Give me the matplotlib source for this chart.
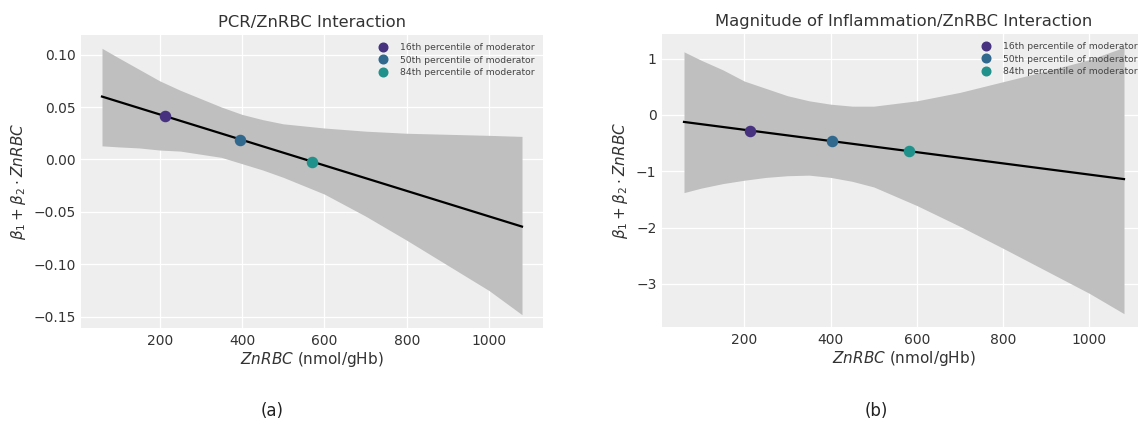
import matplotlib
matplotlib.use('Agg')
import matplotlib.pyplot as plt
import numpy as np

# HDI band, x in nmol/gHb
band_x = [60, 100, 150, 200, 250, 300, 350, 400, 450, 500, 600, 700, 800, 900, 1000, 1080]

pcr_upper = [0.106, 0.097, 0.086, 0.075, 0.066, 0.058, 0.050, 0.043, 0.038, 0.034,
             0.030, 0.027, 0.025, 0.024, 0.023, 0.022]
pcr_lower = [0.013, 0.012, 0.011, 0.009, 0.008, 0.005, 0.002, -0.004, -0.010, -0.017,
             -0.033, -0.054, -0.077, -0.101, -0.125, -0.148]
pcr_line_x = [60, 1080]
pcr_line_y = [0.060, -0.064]
pcr_pts_x = [212, 395, 571]
pcr_pts_y = [0.041, 0.019, -0.002]

inf_upper = [1.12, 0.97, 0.80, 0.60, 0.47, 0.34, 0.25, 0.19, 0.155, 0.155,
             0.25, 0.40, 0.59, 0.78, 0.98, 1.20]
inf_lower = [-1.38, -1.30, -1.22, -1.16, -1.11, -1.08, -1.07, -1.11, -1.18, -1.28,
             -1.61, -1.98, -2.37, -2.77, -3.17, -3.53]
inf_line_x = [60, 1080]
inf_line_y = [-0.125, -1.14]
inf_pts_x = [214, 402, 581]
inf_pts_y = [-0.29, -0.46, -0.64]

pct_labels = ['16th percentile of moderator', '50th percentile of moderator',
              '84th percentile of moderator']
pct_colors = ['#46327e', '#31688e', '#21918c']

titles = ['PCR/ZnRBC Interaction', 'Magnitude of Inflammation/ZnRBC Interaction']
sub_labels = ['(a)', '(b)']

W, H = 1138, 426
fig = plt.figure(figsize=(W / 100, H / 100), dpi=100)
fig.patch.set_facecolor('white')

ax_a = fig.add_axes([81 / W, 1 - 328 / H, 462 / W, 293 / H])
ax_b = fig.add_axes([662 / W, 1 - 327 / H, 484 / W, 293 / H])

panels = [
    (ax_a, pcr_upper, pcr_lower, pcr_line_x, pcr_line_y, pcr_pts_x, pcr_pts_y),
    (ax_b, inf_upper, inf_lower, inf_line_x, inf_line_y, inf_pts_x, inf_pts_y),
]

for i, (ax, up, lo, lx, ly, px, py) in enumerate(panels):
    ax.set_facecolor('#eeeeee')
    for s in ax.spines.values():
        s.set_visible(False)
    ax.grid(True, color='white', linewidth=0.9)
    ax.set_axisbelow(True)
    ax.tick_params(length=0, pad=4, labelsize=10, colors='#333333')

    ax.fill_between(band_x, lo, up, color='#bfbfbf', linewidth=0, zorder=1)
    ax.plot(lx, ly, color='black', linewidth=1.6, zorder=2)
    for x, y, c, lab in zip(px, py, pct_colors, pct_labels):
        ax.plot([x], [y], 'o', color=c, markersize=7.3, label=lab, zorder=3)

    ax.set_xticks([200, 400, 600, 800, 1000])
    ax.set_title(titles[i], fontsize=11.8, color='#333333', pad=6)
    ax.set_xlabel(r'$ZnRBC$ (nmol/gHb)', fontsize=11, color='#333333', labelpad=2)
    ax.set_ylabel(r'$\beta_1 + \beta_2 \cdot ZnRBC$', fontsize=11, color='#333333', labelpad=4)
    ax.legend(loc='upper right', frameon=False, fontsize=6.7, markerscale=0.85,
              labelspacing=0.35, labelcolor='#444444')
    ax.margins(x=0.05, y=0.05)

ax_a.set_yticks([0.10, 0.05, 0.00, -0.05, -0.10, -0.15])
ax_b.set_yticks([1, 0, -1, -2, -3])

fig.text(272 / W, 1 - 411 / H, sub_labels[0], ha='center', va='center', fontsize=12, color='#222222')
fig.text(876 / W, 1 - 411 / H, sub_labels[1], ha='center', va='center', fontsize=12, color='#222222')

fig.savefig('out.png', dpi=100)
